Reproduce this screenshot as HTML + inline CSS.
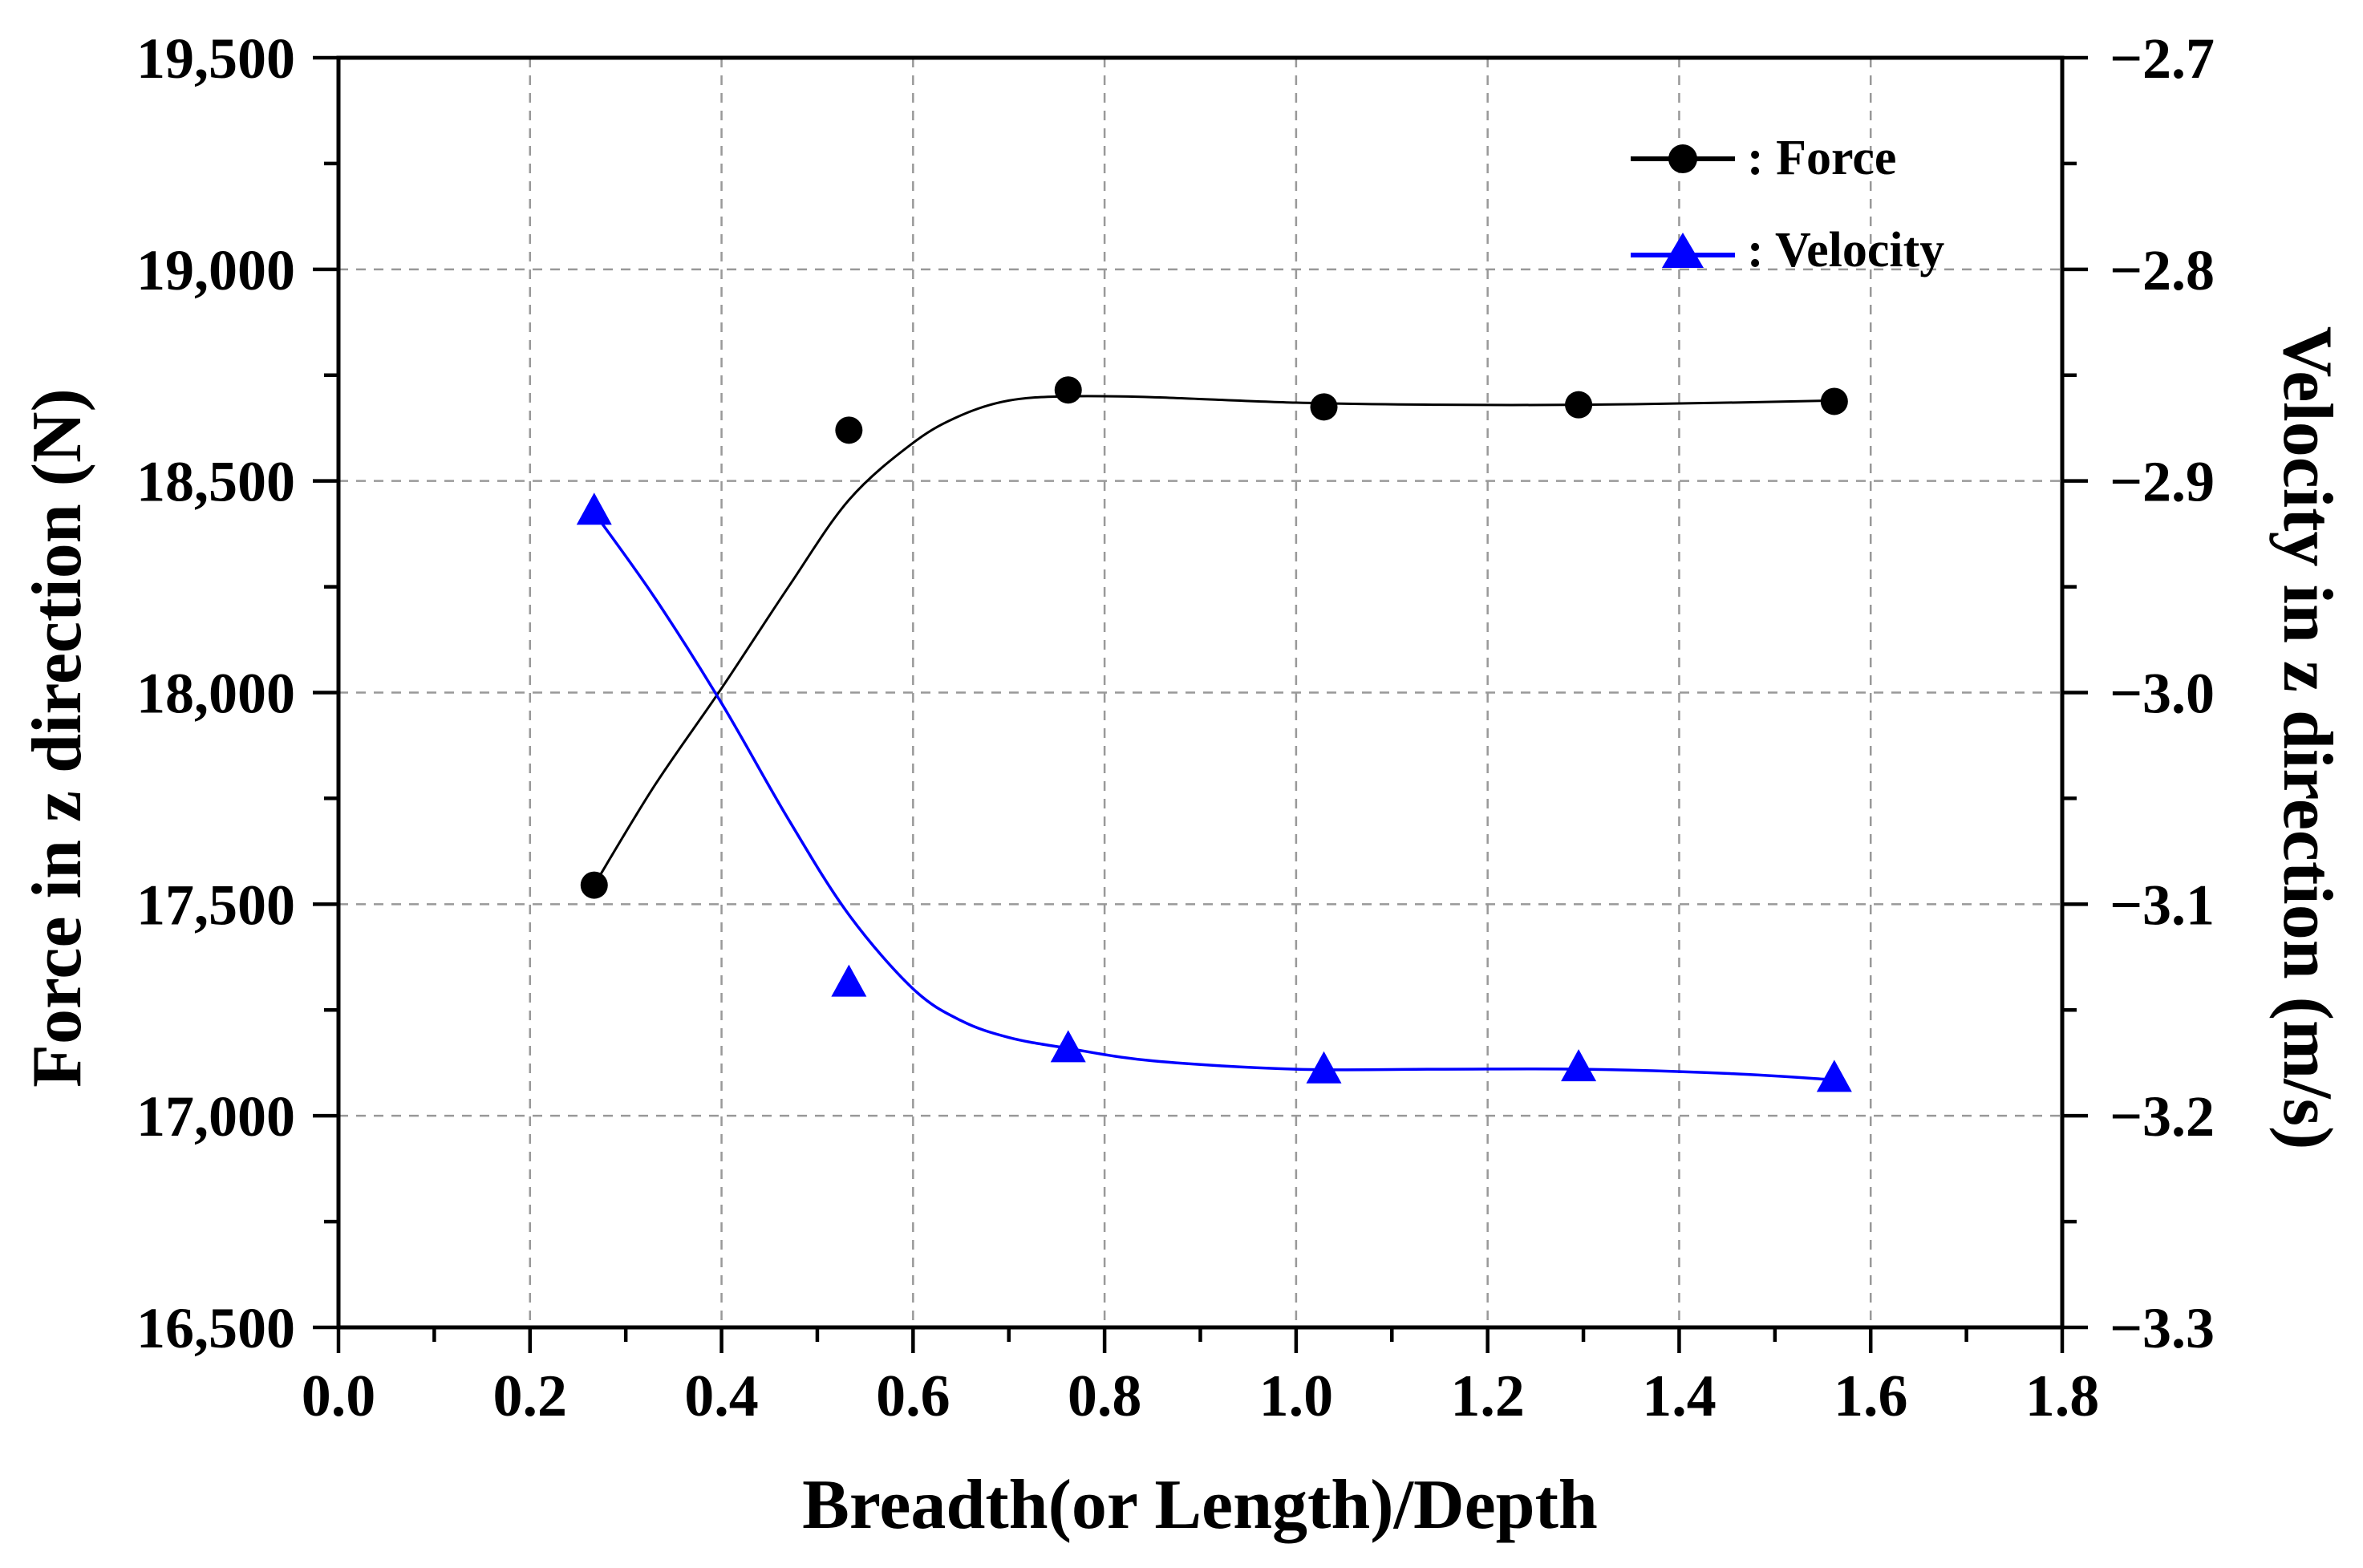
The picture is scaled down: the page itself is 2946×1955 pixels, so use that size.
<!DOCTYPE html>
<html><head><meta charset="utf-8"><style>
html,body{margin:0;padding:0;background:#fff;}
svg{display:block;font-family:"Liberation Serif",serif;font-weight:bold;}
</style></head><body>
<svg id="chart" width="2946" height="1955" viewBox="0 0 2946 1955" xmlns="http://www.w3.org/2000/svg">
<g id="grid"></g>
<g id="axes"></g>
<g id="series"></g>
<text x="1496" y="1905" font-size="88" text-anchor="middle">Breadth(or Length)/Depth</text>
<text transform="translate(100,920) rotate(-90)" font-size="88" text-anchor="middle">Force in z direction (N)</text>
<text transform="translate(2848,920) rotate(90)" font-size="88" text-anchor="middle">Velocity in z direction (m/s)</text>
<g>
<line x1="2033" y1="198" x2="2163" y2="198" stroke="#000" stroke-width="6"/>
<circle cx="2098" cy="198" r="18" fill="#000"/>
<text x="2178" y="217" font-size="62">: Force</text>
<line x1="2033" y1="318" x2="2163" y2="318" stroke="#0000ff" stroke-width="6"/>
<polygon points="2098,290 2124,334 2072,334" fill="#0000ff"/>
<text x="2178" y="332" font-size="62">: Velocity</text>
</g>
</svg>
<script>
const xTicks=[0.0,0.2,0.4,0.6,0.8,1.0,1.2,1.4,1.6,1.8];
const xTickLabels=["0.0","0.2","0.4","0.6","0.8","1.0","1.2","1.4","1.6","1.8"];
const yLeftTicks=[16500,17000,17500,18000,18500,19000,19500];
const yLeftLabels=["16,500","17,000","17,500","18,000","18,500","19,000","19,500"];
const yRightTicks=[-3.3,-3.2,-3.1,-3.0,-2.9,-2.8,-2.7];
const yRightLabels=["\u22123.3","\u22123.2","\u22123.1","\u22123.0","\u22122.9","\u22122.8","\u22122.7"];
const xData=[0.267,0.533,0.762,1.029,1.295,1.562];
const forceData=[17545,18620,18715,18675,18680,18688];
const velocityData=[-2.915,-3.138,-3.169,-3.179,-3.178,-3.183];
const fitX=[0.267,0.33,0.4,0.47,0.533,0.6,0.65,0.7,0.76,0.85,1.0,1.15,1.3,1.45,1.562];
const forceFit=[17545,17780,18010,18250,18455,18590,18655,18690,18700,18698,18685,18680,18680,18685,18690];
const velocityFit=[-2.915,-2.955,-3.005,-3.06,-3.105,-3.14,-3.155,-3.163,-3.168,-3.174,-3.178,-3.178,-3.178,-3.18,-3.183];

const L=422,R=2571,T=72,B=1655;
const xS=v=>L+(v-0)/1.8*(R-L);
const yL=v=>B-(v-16500)/3000*(B-T);
const yR=v=>B-(v+3.3)/0.6*(B-T);
const NS="http://www.w3.org/2000/svg";
function mk(tag,attrs,parent){const e=document.createElementNS(NS,tag);for(const k in attrs)e.setAttribute(k,attrs[k]);parent.appendChild(e);return e;}
const grid=document.getElementById('grid'),axes=document.getElementById('axes'),series=document.getElementById('series');

xTicks.forEach((v,i)=>{
  const x=xS(v);
  if(i>0&&i<xTicks.length-1){const g=mk('line',{x1:x,y1:T,x2:x,y2:B,stroke:'#999','stroke-width':2.5,'stroke-dasharray':'12,10'},grid);
  
  }
  const t=mk('line',{x1:x,y1:B,x2:x,y2:B+32,stroke:'#000','stroke-width':4.5},axes);
  
  
  if(i<xTicks.length-1){const m=mk('line',{x1:xS(v+0.1),y1:B,x2:xS(v+0.1),y2:B+18,stroke:'#000','stroke-width':4.5},axes);
  
  }
  const l=mk('text',{x:x,y:B+110,'font-size':74,'text-anchor':'middle'},axes);l.textContent=xTickLabels[i];
  
  
});
yLeftTicks.forEach((v,i)=>{
  const y=yL(v);
  if(i>0&&i<yLeftTicks.length-1){const g=mk('line',{x1:L,y1:y,x2:R,y2:y,stroke:'#999','stroke-width':2.5,'stroke-dasharray':'12,10'},grid);
  
  }
  const t=mk('line',{x1:L-32,y1:y,x2:L,y2:y,stroke:'#000','stroke-width':4.5},axes);
  
  
  if(i<yLeftTicks.length-1){const m=mk('line',{x1:L-18,y1:yL(v+250),x2:L,y2:yL(v+250),stroke:'#000','stroke-width':4.5},axes);
  
  }
  const l=mk('text',{x:368,y:y+25,'font-size':72,'text-anchor':'end'},axes);l.textContent=yLeftLabels[i];
  
  
});
yRightTicks.forEach((v,i)=>{
  const y=yR(v);
  const t=mk('line',{x1:R,y1:y,x2:R+32,y2:y,stroke:'#000','stroke-width':4.5},axes);
  
  
  if(i<yRightTicks.length-1){const m=mk('line',{x1:R,y1:yR(v+0.05),x2:R+18,y2:yR(v+0.05),stroke:'#000','stroke-width':4.5},axes);
  
  }
  const l=mk('text',{x:2630,y:y+25,'font-size':72,'text-anchor':'start'},axes);l.textContent=yRightLabels[i];
  
  
});
const frame=mk('rect',{x:L,y:T,width:R-L,height:B-T,fill:'none',stroke:'#000','stroke-width':5},axes);



function smooth(pts){let d='M'+pts[0][0]+','+pts[0][1];
  for(let i=0;i<pts.length-1;i++){const p0=pts[Math.max(0,i-1)],p1=pts[i],p2=pts[i+1],p3=pts[Math.min(pts.length-1,i+2)];
    d+=' C'+(p1[0]+(p2[0]-p0[0])/6)+','+(p1[1]+(p2[1]-p0[1])/6)+' '+(p2[0]-(p3[0]-p1[0])/6)+','+(p2[1]-(p3[1]-p1[1])/6)+' '+p2[0]+','+p2[1];}
  return d;}
const fc=mk('path',{d:smooth(fitX.map((x,i)=>[xS(x),yL(forceFit[i])])),fill:'none',stroke:'#000','stroke-width':3},series);


const vc=mk('path',{d:smooth(fitX.map((x,i)=>[xS(x),yR(velocityFit[i])])),fill:'none',stroke:'#0000ff','stroke-width':3.5},series);


xData.forEach((x,i)=>{
  const c=mk('circle',{cx:xS(x),cy:yL(forceData[i]),r:17,fill:'#000'},series);
  
  
  const px=xS(x),py=yR(velocityData[i]);
  const p=mk('polygon',{points:`${px},${py-25} ${px+22},${py+15} ${px-22},${py+15}`,fill:'#0000ff'},series);
  
  
});
</script>
</body></html>
